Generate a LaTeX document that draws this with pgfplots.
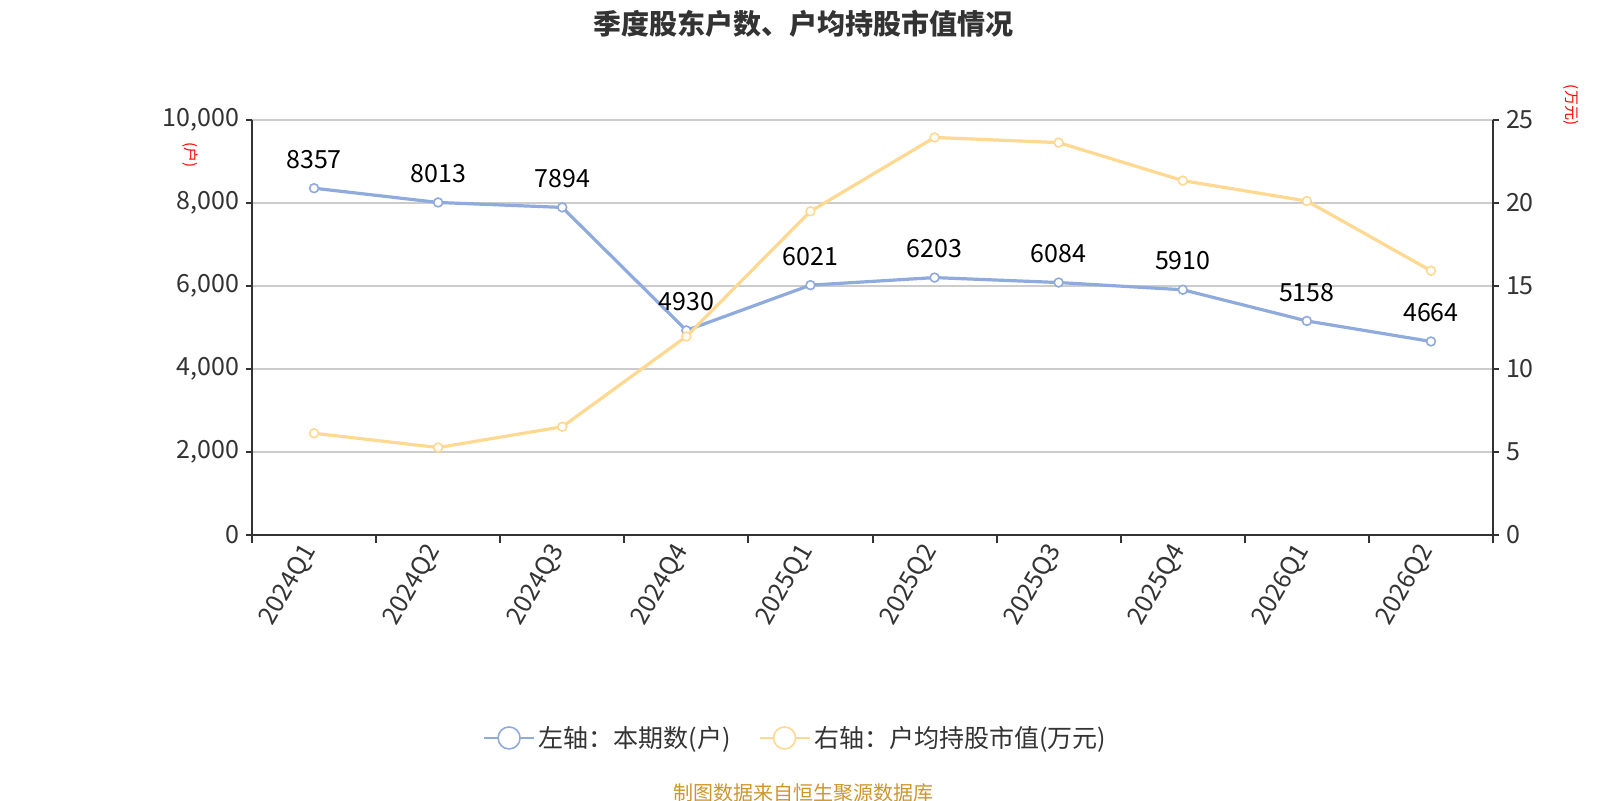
\documentclass[border=0pt]{standalone}
\usepackage{fontspec}
\setmainfont{Noto Sans CJK SC}
\usepackage{pgfplots}
\pgfplotsset{compat=1.18}
\definecolor{cblue}{RGB}{143,170,220}
\definecolor{cyel}{RGB}{255,216,146}
\definecolor{ctxt}{RGB}{51,51,51}
\definecolor{caxis}{RGB}{51,51,51}
\definecolor{cgrid}{RGB}{204,204,204}
\definecolor{csrc}{RGB}{205,150,45}
\begin{document}
\begin{tikzpicture}
\path[use as bounding box] (0pt,0pt) rectangle (800pt,-400pt);
\pgfplotsset{
  common/.style={
    at={(126pt,-267.5pt)}, anchor=south west,
    scale only axis, width=620.5pt, height=207.5pt,
    xmin=-0.5, xmax=9.5,
    /pgf/number format/assume math mode=true,
    tick label style={font=\fontsize{12.5}{15}\selectfont, color=ctxt},
    axis line style={caxis, line width=1pt},
    tick style={caxis, line width=1pt},
    major tick length=3pt, minor tick length=4pt,
    tick align=outside,
  },
  bstyle/.style={cblue, line width=1.6pt, mark=*, mark size=2.2pt, mark options={fill=white, draw=cblue, line width=0.8pt}},
  ystyle/.style={cyel, line width=1.6pt, mark=*, mark size=2.2pt, mark options={fill=white, draw=cyel, line width=0.8pt}},
}
\begin{axis}[common,
  axis x line*=bottom, axis y line*=left,
  ymin=0, ymax=10000, ytick={0,2000,...,10000},
  ymajorgrids, grid style={cgrid, line width=0.6pt},
  xtick={0,...,9},
  xticklabels={2024Q1,2024Q2,2024Q3,2024Q4,2025Q1,2025Q2,2025Q3,2025Q4,2026Q1,2026Q2},
  major x tick style={draw=none},
  minor xtick={-0.5,0.5,...,9.5},
  x tick label style={rotate=60, anchor=east},
  yticklabel style={/pgf/number format/.cd, 1000 sep={,}},
  scaled y ticks=false,
]
\addplot[bstyle,
  nodes near coords={\pgfmathprintnumber[1000 sep={},assume math mode=true]{\pgfplotspointmeta}},
  every node near coord/.append style={font=\fontsize{12.5}{15}\selectfont, black, anchor=south, yshift=6pt}]
  coordinates {(0,8357) (1,8013) (2,7894) (3,4930) (4,6021) (5,6203) (6,6084) (7,5910) (8,5158) (9,4664)};
\end{axis}
\begin{axis}[common,
  axis y line*=right, axis x line=none,
  ymin=0, ymax=25, ytick={0,5,...,25}, xtick=\empty,
  legend style={at={(0.439,-0.489)}, anchor=center, draw=none, fill=none,
    legend columns=2, font=\fontsize{12.5}{15}\selectfont, text=ctxt,
    /tikz/every even column/.append style={column sep=12pt}},
  legend image code/.code={
    \draw[line width=0.8pt] (0pt,0pt)--(25pt,0pt);
    \draw[fill=white, line width=0.8pt] (12.5pt,0pt) circle (5.5pt);},
]
\addlegendimage{bstyle}
\addlegendentry{左轴：本期数(户)}
\addplot[ystyle] coordinates {(0,6.13) (1,5.27) (2,6.52) (3,11.96) (4,19.5) (5,23.95) (6,23.64) (7,21.35) (8,20.12) (9,15.92)};
\addlegendentry{右轴：户均持股市值(万元)}
\end{axis}
\node[font=\bfseries\fontsize{14}{16}\selectfont, text=ctxt] at (401.5pt,-12pt) {季度股东户数、户均持股市值情况};
\node[rotate=-90, text=red, font=\fontsize{7.5}{9}\selectfont] at (95pt,-77.5pt) {(户)};
\node[rotate=-90, text=red, font=\fontsize{7.5}{9}\selectfont] at (785.5pt,-52.5pt) {(万元)};
\node[font=\fontsize{10}{12}\selectfont, text=csrc] at (401.5pt,-396.5pt) {制图数据来自恒生聚源数据库};
\end{tikzpicture}
\end{document}
